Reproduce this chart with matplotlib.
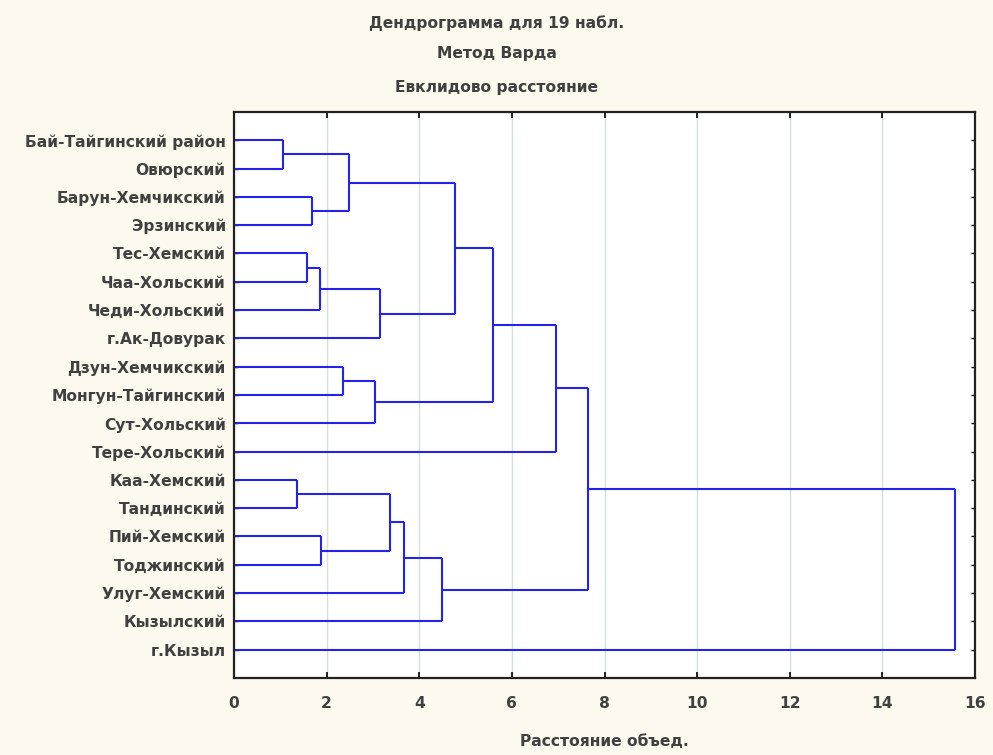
"""Ward dendrogram for 19 districts (Statistica-style look)."""

import matplotlib
matplotlib.use("Agg")
import matplotlib.pyplot as plt
from matplotlib.ticker import MultipleLocator

plt.rcParams["font.family"] = ["DejaVu Sans"]
plt.rcParams["font.weight"] = "bold"

LEAVES = [
    "Бай-Тайгинский район", "Овюрский", "Барун-Хемчикский", "Эрзинский",
    "Тес-Хемский", "Чаа-Хольский", "Чеди-Хольский", "г.Ак-Довурак",
    "Дзун-Хемчикский", "Монгун-Тайгинский", "Сут-Хольский", "Тере-Хольский",
    "Каа-Хемский", "Тандинский", "Пий-Хемский", "Тоджинский",
    "Улуг-Хемский", "Кызылский", "г.Кызыл",
]

# merges: new cluster id = 19 + row index
MERGE_A = [0, 2, 19, 4, 22, 23, 21, 8, 26, 25, 28, 12, 14, 30, 32, 33, 29, 35]
MERGE_B = [1, 3, 20, 5, 6, 7, 24, 9, 10, 27, 11, 13, 15, 31, 16, 17, 34, 18]
HEIGHTS = [1.06, 1.68, 2.48, 1.58, 1.86, 3.15, 4.77, 2.35, 3.05, 5.59, 6.95,
           1.36, 1.88, 3.37, 3.67, 4.49, 7.65, 15.57]

TITLE = ["Дендрограмма для 19 набл.", "Метод Варда", "Евклидово расстояние"]
XLABEL = "Расстояние объед."

BG = "#fdf9ee"
LINE = "#2424e8"
TEXT = "#404040"
GRID = "#d4e2da"
FS = 11.2

fig = plt.figure(figsize=(9.93, 7.55), dpi=100)
fig.patch.set_facecolor(BG)
ax = fig.add_axes([0.2357, 0.102, 0.7462, 0.7497])
ax.set_facecolor("white")

n = len(LEAVES)
ypos = {i: float(i) for i in range(n)}
xpos = {i: 0.0 for i in range(n)}
for k, (a, b, h) in enumerate(zip(MERGE_A, MERGE_B, HEIGHTS)):
    ya, yb = ypos[a], ypos[b]
    ax.plot([xpos[a], h], [ya, ya], color=LINE, lw=1.5, solid_capstyle="butt")
    ax.plot([xpos[b], h], [yb, yb], color=LINE, lw=1.5, solid_capstyle="butt")
    ax.plot([h, h], [ya, yb], color=LINE, lw=1.5, solid_capstyle="butt")
    ypos[n + k] = (ya + yb) / 2
    xpos[n + k] = h

ax.set_xlim(0, 16)
ax.set_ylim(n, -1)
ax.xaxis.set_major_locator(MultipleLocator(2))
ax.set_yticks(range(n))
ax.set_yticklabels(LEAVES)
ax.grid(axis="x", color=GRID, lw=1)
ax.set_axisbelow(True)
ax.tick_params(axis="x", direction="in", top=True, length=4, width=1.2,
               labelsize=FS, labelcolor=TEXT, pad=13)
ax.tick_params(axis="y", direction="in", right=True, length=3, width=1,
               labelsize=FS, labelcolor=TEXT, pad=6)
for s in ax.spines.values():
    s.set_color("#222222")
    s.set_linewidth(1.6)

# axis title sits at the very bottom edge, like in the original export
fig.text(0.6087, 0.018, XLABEL, ha="center", va="center", fontsize=FS,
         color=TEXT)

for y, t in zip([0.970, 0.929, 0.884], TITLE):
    fig.text(0.5, y, t, ha="center", va="center", fontsize=FS, color=TEXT)

fig.savefig("out.png", facecolor=BG)
